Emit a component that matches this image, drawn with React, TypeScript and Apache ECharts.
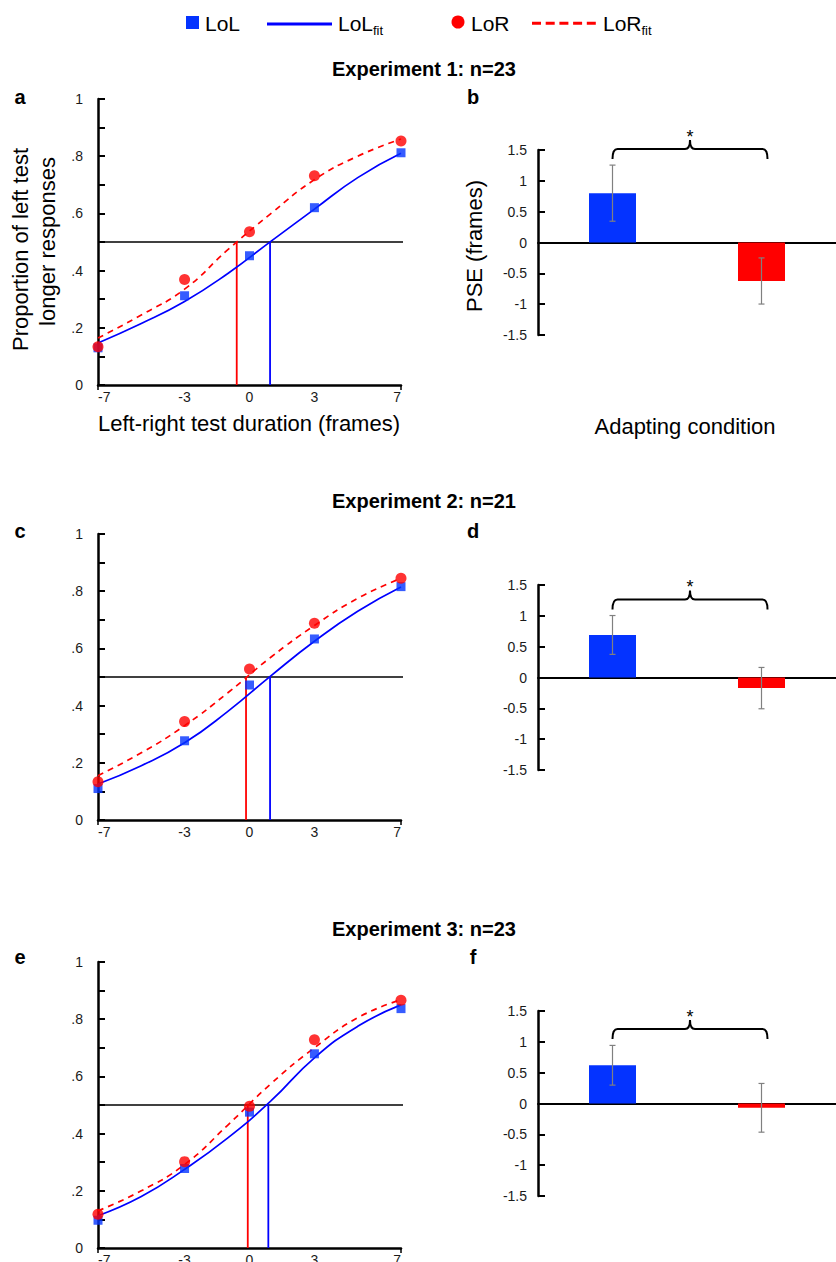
import React, { useEffect, useRef } from 'react';
import * as echarts from 'echarts';

// ---------- data ----------
const durations = [-7, -3, 0, 3, 7];
const fitX = [-7, -5, -3, -1, 1, 3, 5, 7];
const conditions = ['LoL', 'LoR'];

const lolExp1 = [0.13, 0.312, 0.452, 0.62, 0.812];
const lorExp1 = [0.134, 0.369, 0.536, 0.732, 0.853];
const lolFitExp1 = [0.147, 0.215, 0.292, 0.39, 0.503, 0.615, 0.725, 0.81];
const lorFitExp1 = [0.164, 0.245, 0.335, 0.473, 0.6, 0.718, 0.8, 0.86];
const crossExp1 = [0.95, -0.59]; // LoL, LoR fit crossings of .5

const lolExp2 = [0.11, 0.277, 0.472, 0.633, 0.816];
const lorExp2 = [0.134, 0.344, 0.528, 0.688, 0.845];
const lolFitExp2 = [0.126, 0.19, 0.27, 0.38, 0.505, 0.625, 0.73, 0.815];
const lorFitExp2 = [0.155, 0.235, 0.33, 0.445, 0.57, 0.68, 0.775, 0.845];
const crossExp2 = [0.95, -0.16];

const lolExp3 = [0.097, 0.278, 0.475, 0.679, 0.837];
const lorExp3 = [0.118, 0.302, 0.496, 0.728, 0.866];
const lolFitExp3 = [0.113, 0.18, 0.275, 0.385, 0.515, 0.665, 0.775, 0.85];
const lorFitExp3 = [0.13, 0.2, 0.292, 0.43, 0.575, 0.7, 0.805, 0.868];
const crossExp3 = [0.87, -0.08];

const pseExp1 = [0.8, -0.624];
const pseErrExp1 = [0.455, 0.374];
const pseExp2 = [0.69, -0.172];
const pseErrExp2 = [0.315, 0.335];
const pseExp3 = [0.62, -0.07];
const pseErrExp3 = [0.322, 0.395];
const bracketLevel = [1.517, 1.265, 1.21];

const titles = ['Experiment 1: n=23', 'Experiment 2: n=21', 'Experiment 3: n=23'];
const yTickLabels = ['0', '.2', '.4', '.6', '.8', '1'];
const xTickValues = [-7, -3, 0, 3, 7];

// ---------- layout / style ----------
const FONT = '"Liberation Sans", Arial, sans-serif';
const BLUE = '#0000FF';
const BLUE_FILL = '#0433FF';
const RED = '#FF0000';
const psyTops = [99, 534, 962];
const barTops = [150, 585, 1011];
const titleYs = [69, 501, 929];
const letterYs = [97, 531, 957];

const exps = [
  { lol: lolExp1, lor: lorExp1, lolFit: lolFitExp1, lorFit: lorFitExp1, cross: crossExp1, pse: pseExp1, err: pseErrExp1 },
  { lol: lolExp2, lor: lorExp2, lolFit: lolFitExp2, lorFit: lorFitExp2, cross: crossExp2, pse: pseExp2, err: pseErrExp2 },
  { lol: lolExp3, lor: lorExp3, lolFit: lolFitExp3, lorFit: lorFitExp3, cross: crossExp3, pse: pseExp3, err: pseErrExp3 },
];

function errorRender(params: any, api: any) {
  const x = api.value(0);
  const m = api.value(1);
  const e = api.value(2);
  const top = api.coord([x, m + e]);
  const bot = api.coord([x, m - e]);
  const cap = 3;
  const st = { stroke: '#808080', lineWidth: 1.2 };
  return {
    type: 'group',
    children: [
      { type: 'line', shape: { x1: top[0], y1: top[1], x2: bot[0], y2: bot[1] }, style: st },
      { type: 'line', shape: { x1: top[0] - cap, y1: top[1], x2: top[0] + cap, y2: top[1] }, style: st },
      { type: 'line', shape: { x1: bot[0] - cap, y1: bot[1], x2: bot[0] + cap, y2: bot[1] }, style: st },
    ],
  };
}

function bracketRender(params: any, api: any) {
  const lvl = api.value(2);
  const p1 = api.coord([api.value(0), lvl]);
  const p2 = api.coord([api.value(1), lvl]);
  const x1 = p1[0];
  const x2 = p2[0] + 6;
  const y = p1[1];
  const xm = (x1 + x2) / 2;
  const drop = 10;
  const notch = 9;
  const r = 5;
  const d =
    `M${x1},${y + drop} Q${x1},${y} ${x1 + r},${y} L${xm - r},${y} Q${xm},${y} ${xm},${y - notch} ` +
    `M${xm},${y - notch} Q${xm},${y} ${xm + r},${y} L${x2 - r},${y} Q${x2},${y} ${x2},${y + drop}`;
  return {
    type: 'group',
    children: [
      { type: 'path', shape: { pathData: d }, style: { stroke: '#000', lineWidth: 2, fill: 'none' } },
      {
        type: 'text',
        x: xm,
        y: y - notch - 3,
        style: { text: '*', fontSize: 18, fontFamily: FONT, fill: '#000', align: 'center', verticalAlign: 'middle' },
      },
    ],
  };
}

function buildOption() {
  const grid: any[] = [];
  const xAxis: any[] = [];
  const yAxis: any[] = [];
  const series: any[] = [];

  exps.forEach((ex, i) => {
    // psychometric panel
    const pg = grid.length;
    grid.push({ left: 98, top: psyTops[i], width: 303, height: 286, containLabel: false, outerBoundsMode: 'none' });
    xAxis.push({
      gridIndex: pg,
      type: 'value',
      min: -7,
      max: 7,
      axisLine: { onZero: false, lineStyle: { color: '#000', width: 2.5 } },
      axisTick: { show: true, customValues: [-7, 7], length: 5, lineStyle: { color: '#000', width: 1.5 } },
      axisLabel: {
        customValues: xTickValues,
        fontSize: 14,
        color: '#1a1a1a',
        fontFamily: FONT,
        margin: 5,
        alignMinLabel: 'left',
        alignMaxLabel: 'right',
        showMinLabel: true,
        showMaxLabel: true,
      },
      splitLine: { show: false },
    });
    yAxis.push({
      gridIndex: pg,
      type: 'value',
      min: 0,
      max: 1,
      interval: 0.1,
      axisLine: { show: true, onZero: false, lineStyle: { color: '#000', width: 2.5 } },
      axisTick: { show: true, inside: true, length: 7, lineStyle: { color: '#000', width: 2 } },
      axisLabel: {
        fontSize: 14,
        color: '#1a1a1a',
        fontFamily: FONT,
        margin: 15,
        padding: [0, 0, 6, 0],
        formatter: (v: number) => {
          const r = Math.round(v * 10);
          return r % 2 === 0 ? yTickLabels[r / 2] : '';
        },
      },
      splitLine: { show: false },
    });
    const common = { xAxisIndex: pg, yAxisIndex: pg, silent: true, animation: false };
    series.push({
      ...common,
      type: 'line',
      smooth: 0.5,
      showSymbol: false,
      data: fitX.map((x, k) => [x, ex.lolFit[k]]),
      lineStyle: { color: BLUE, width: 1.7 },
      z: 3,
    });
    series.push({
      ...common,
      type: 'line',
      smooth: 0.5,
      showSymbol: false,
      data: fitX.map((x, k) => [x, ex.lorFit[k]]),
      lineStyle: { color: RED, width: 1.7, type: [6, 5] },
      z: 3,
    });
    series.push({
      ...common,
      type: 'line',
      showSymbol: false,
      clip: false,
      data: [[-7, 0.5], [7.15, 0.5]],
      lineStyle: { color: '#000', width: 1.6 },
      z: 2,
    });
    series.push({
      ...common,
      type: 'line',
      showSymbol: false,
      data: [[ex.cross[1], 0], [ex.cross[1], 0.5]],
      lineStyle: { color: RED, width: 1.8 },
      z: 2,
    });
    series.push({
      ...common,
      type: 'line',
      showSymbol: false,
      data: [[ex.cross[0], 0], [ex.cross[0], 0.5]],
      lineStyle: { color: BLUE, width: 1.8 },
      z: 2,
    });
    series.push({
      ...common,
      type: 'scatter',
      clip: false,
      symbol: 'rect',
      symbolSize: 9,
      data: durations.map((x, k) => [x, ex.lol[k]]),
      itemStyle: { color: BLUE_FILL },
      z: 4,
    });
    series.push({
      ...common,
      type: 'scatter',
      clip: false,
      symbol: 'circle',
      symbolSize: 11,
      data: durations.map((x, k) => [x, ex.lor[k]]),
      itemStyle: { color: RED },
      z: 5,
    });

    // PSE bar panel
    const bg = grid.length;
    grid.push({ left: 538, top: barTops[i], right: 0, height: 185, containLabel: false, outerBoundsMode: 'none' });
    xAxis.push({
      gridIndex: bg,
      type: 'category',
      data: conditions,
      axisLine: { onZero: true, lineStyle: { color: '#000', width: 2 } },
      axisTick: { show: false },
      axisLabel: { show: false },
      splitLine: { show: false },
    });
    yAxis.push({
      gridIndex: bg,
      type: 'value',
      min: -1.5,
      max: 1.5,
      interval: 0.5,
      axisLine: { show: true, onZero: false, lineStyle: { color: '#000', width: 2.5 } },
      axisTick: { show: true, inside: true, length: 7, lineStyle: { color: '#000', width: 2 } },
      axisLabel: { fontSize: 14, color: '#1a1a1a', fontFamily: FONT, margin: 11, formatter: (v: number) => String(v) },
      splitLine: { show: false },
    });
    const bcommon = { xAxisIndex: bg, yAxisIndex: bg, silent: true, animation: false };
    series.push({
      ...bcommon,
      type: 'bar',
      barWidth: 47,
      data: ex.pse.map((v, k) => ({ value: v, itemStyle: { color: k === 0 ? BLUE_FILL : RED } })),
      z: 2,
    });
    series.push({
      ...bcommon,
      type: 'custom',
      renderItem: errorRender,
      encode: { x: 0, y: 1 },
      data: ex.pse.map((v, k) => [k, v, ex.err[k]]),
      z: 5,
    });
    series.push({
      ...bcommon,
      type: 'custom',
      clip: false,
      renderItem: bracketRender,
      encode: { x: 0, y: 2 },
      data: [[0, 1, bracketLevel[i]]],
      z: 5,
    });
  });

  const txt = (x: number, y: number, text: string, size: number, extra: any = {}) => ({
    type: 'text',
    x,
    y,
    silent: true,
    style: {
      text,
      fontSize: size,
      fontFamily: FONT,
      fill: '#000',
      align: 'center',
      verticalAlign: 'middle',
      ...extra,
    },
  });

  const graphic: any[] = [];
  // legend
  graphic.push({ type: 'rect', shape: { x: 186, y: 16, width: 13, height: 13 }, style: { fill: BLUE_FILL }, silent: true });
  graphic.push(txt(205, 23.6, 'LoL', 21, { align: 'left' }));
  graphic.push({ type: 'line', shape: { x1: 267, y1: 24, x2: 332, y2: 24 }, style: { stroke: BLUE, lineWidth: 3 }, silent: true });
  graphic.push(txt(338, 23.6, 'LoL', 21, { align: 'left' }));
  graphic.push(txt(373, 30, 'fit', 13, { align: 'left' }));
  graphic.push({ type: 'circle', shape: { cx: 458, cy: 22, r: 6.5 }, style: { fill: RED }, silent: true });
  graphic.push(txt(471, 23.6, 'LoR', 21, { align: 'left' }));
  graphic.push({
    type: 'line',
    shape: { x1: 532, y1: 23.3, x2: 596, y2: 23.3 },
    style: { stroke: RED, lineWidth: 3, lineDash: [9, 4.7] },
    silent: true,
  });
  graphic.push(txt(603, 23.6, 'LoR', 21, { align: 'left' }));
  graphic.push(txt(641.5, 30, 'fit', 13, { align: 'left' }));

  // titles and panel letters
  const letters = [['a', 'b'], ['c', 'd'], ['e', 'f']];
  titles.forEach((t, i) => {
    graphic.push(txt(424, titleYs[i], t, 20, { fontWeight: 'bold' }));
    graphic.push(txt(20, letterYs[i], letters[i][0], 20, { fontWeight: 'bold' }));
    graphic.push(txt(473, letterYs[i], letters[i][1], 20, { fontWeight: 'bold' }));
  });

  // axis names (panels a & b)
  graphic.push({
    type: 'text',
    x: 20,
    y: 249.5,
    rotation: Math.PI / 2,
    silent: true,
    style: { text: 'Proportion of left test', fontSize: 22, fontFamily: FONT, fill: '#000', align: 'center', verticalAlign: 'middle' },
  });
  graphic.push({
    type: 'text',
    x: 47,
    y: 241.5,
    rotation: Math.PI / 2,
    silent: true,
    style: { text: 'longer responses', fontSize: 22, fontFamily: FONT, fill: '#000', align: 'center', verticalAlign: 'middle' },
  });
  graphic.push(txt(249, 423, 'Left-right test duration (frames)', 22));
  graphic.push({
    type: 'text',
    x: 474,
    y: 246,
    rotation: Math.PI / 2,
    silent: true,
    style: { text: 'PSE (frames)', fontSize: 22, fontFamily: FONT, fill: '#000', align: 'center', verticalAlign: 'middle' },
  });
  graphic.push(txt(685, 426, 'Adapting condition', 22));

  return {
    animation: false,
    backgroundColor: '#ffffff',
    textStyle: { fontFamily: FONT },
    grid,
    xAxis,
    yAxis,
    series,
    graphic,
  };
}

export default function App() {
  const ref = useRef<HTMLDivElement>(null);
  useEffect(() => {
    if (!ref.current) return;
    const chart = echarts.init(ref.current, null, { renderer: 'svg' });
    chart.setOption(buildOption() as any);
    return () => chart.dispose();
  }, []);
  return (
    <div
      ref={ref}
      style={{ position: 'absolute', left: 0, top: 0, width: 836, height: 1262, background: '#fff' }}
    />
  );
}
